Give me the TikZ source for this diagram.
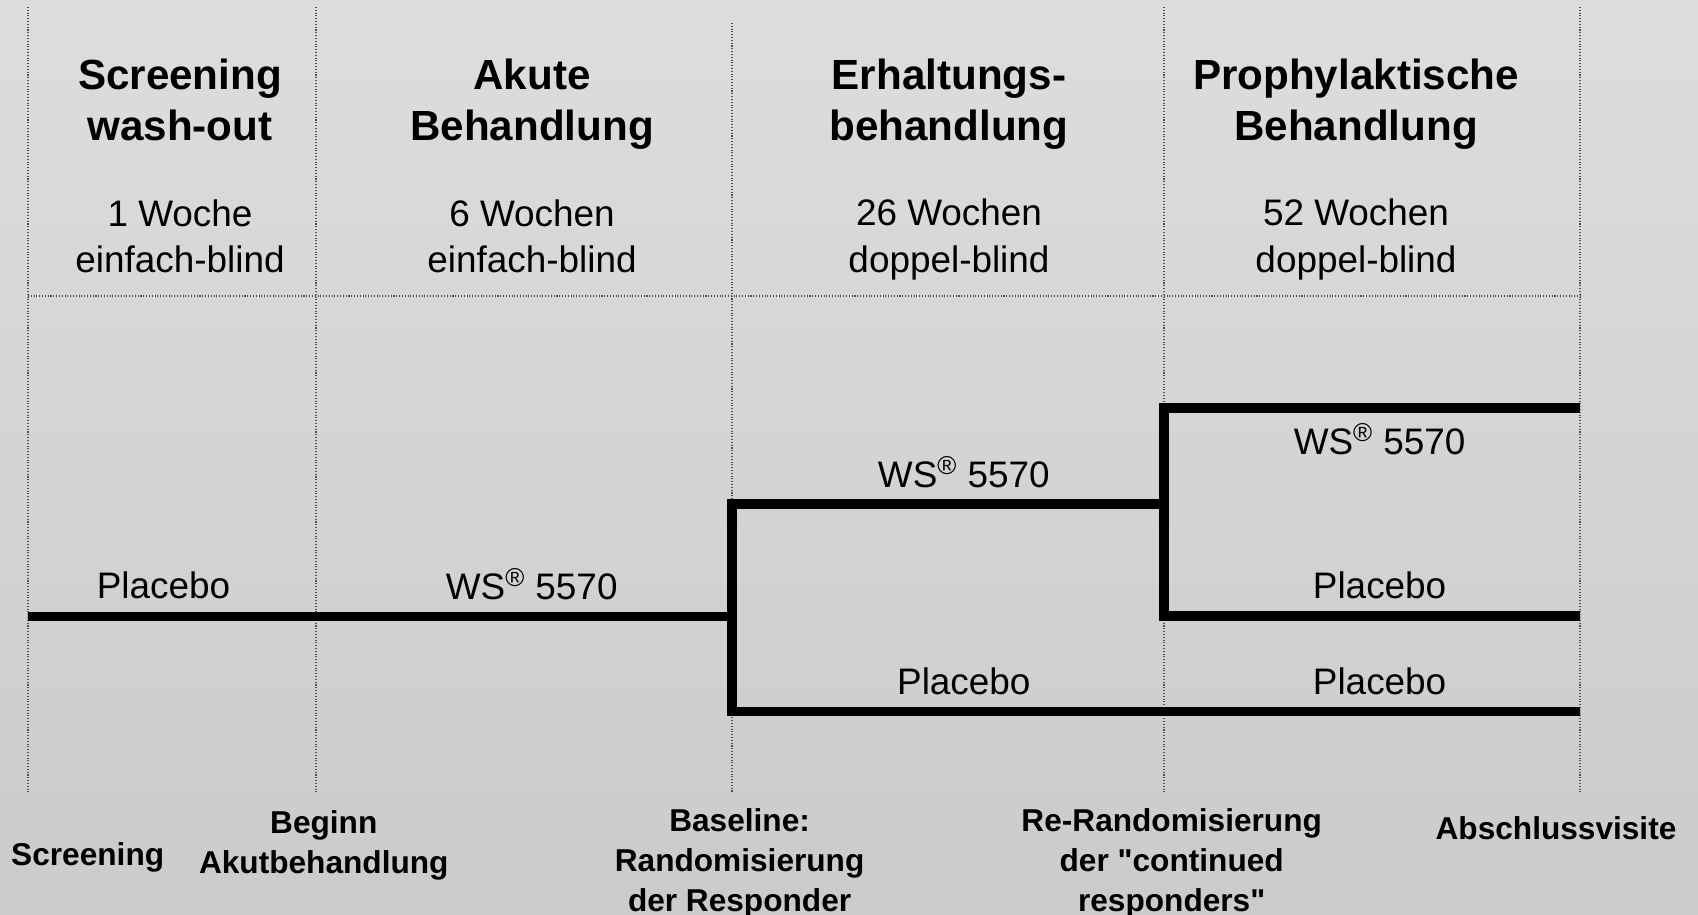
\documentclass[tikz,border=0pt]{standalone}
\usepackage{fontspec}
\setmainfont{Liberation Sans}
\definecolor{bgtop}{RGB}{221,221,221}
\definecolor{bgbottom}{RGB}{203,203,203}
\definecolor{sepgray}{RGB}{80,80,80}
\begin{document}
\begin{tikzpicture}[x=0.02cm, y=-0.02cm,
    every node/.style={align=center, inner sep=0pt},
    phasehead/.style={font=\fontsize{24}{29}\selectfont\bfseries},
    phaseinfo/.style={font=\fontsize{21}{26.5}\selectfont},
    armlabel/.style={font=\fontsize{21}{25}\selectfont},
    visit/.style={font=\fontsize{18}{22.7}\selectfont\bfseries},
    sepline/.style={sepgray, line width=0.6pt, densely dotted},
    treeline/.style={black, line width=10pt*0.5669}]
    \useasboundingbox (0,0) rectangle (1698,914);
    \shade[top color=bgtop, bottom color=bgbottom] (0,0) rectangle (1698,914);

    % phase borders
    \foreach \x in {28,316,1164,1580}
        \draw[sepline] (\x,7) -- (\x,792);
    \draw[sepline] (732,23) -- (732,792);
    \draw[sepline] (28,296) -- (1580,296);

    % phases
    \node[phasehead] (screenhead) at (180,100) {Screening\\wash-out};
    \node[phasehead] (akuthead) at (532,104.5) {Akute\\Behandlung};
    \node[phasehead] (erhalthead) at (949,104.5) {Erhaltungs-\\behandlung};
    \node[phasehead] (prophead) at (1356,104.5) {Prophylaktische\\Behandlung};

    \node[phaseinfo] (screeninfo) at (180,236.5) {1 Woche\\einfach-blind};
    \node[phaseinfo] (akutinfo) at (532,236.5) {6 Wochen\\einfach-blind};
    \node[phaseinfo] (erhaltinfo) at (949,239.5) {26 Wochen\\doppel-blind};
    \node[phaseinfo] (propinfo) at (1356,239.5) {52 Wochen\\doppel-blind};

    % treatment arms
    \coordinate (start) at (28,616.5);
    \coordinate (base) at (732,616.5);
    \coordinate (baseup) at (732,504.3);
    \coordinate (baselow) at (732,711.5);
    \coordinate (rerand) at (1164,504.3);
    \coordinate (rerandup) at (1164,408.3);
    \coordinate (rerandlow) at (1164,616);
    \coordinate (endup) at (1580,408.3);
    \coordinate (endmid) at (1580,616);
    \coordinate (endlow) at (1580,711.5);

    \draw[treeline] (start) -- (base);
    \draw[treeline, line cap=rect] (baseup) -- (baselow);
    \draw[treeline] (baseup) -- (rerand);
    \draw[treeline] (baselow) -- (endlow);
    \draw[treeline, line cap=rect] (rerandup) -- (rerandlow);
    \draw[treeline] (rerandup) -- (endup);
    \draw[treeline] (rerandlow) -- (endmid);

    \node[armlabel] (plac1) at (163.5,585) {Placebo};
    \node[armlabel] (ws1) at (531.7,584) {WS\textsuperscript{®} 5570};
    \node[armlabel] (ws2) at (963.8,472) {WS\textsuperscript{®} 5570};
    \node[armlabel] (plac2) at (963.8,681) {Placebo};
    \node[armlabel] (ws3) at (1379.6,439) {WS\textsuperscript{®} 5570};
    \node[armlabel] (plac3) at (1379.6,585) {Placebo};
    \node[armlabel] (plac4) at (1379.6,681) {Placebo};

    % visits
    \node[visit] (vscreen) at (87.7,857.5) {Screening};
    \node[visit] (vbeginn) at (323.8,845.5) {Beginn\\Akutbehandlung};
    \node[visit] (vbase) at (739.6,863.5) {Baseline:\\Randomisierung\\der Responder};
    \node[visit] (vrerand) at (1171.7,863.5) {Re-Randomisierung\\der \textquotedbl continued\\responders\textquotedbl};
    \node[visit] (vend) at (1556,828) {Abschlussvisite};
\end{tikzpicture}
\end{document}
